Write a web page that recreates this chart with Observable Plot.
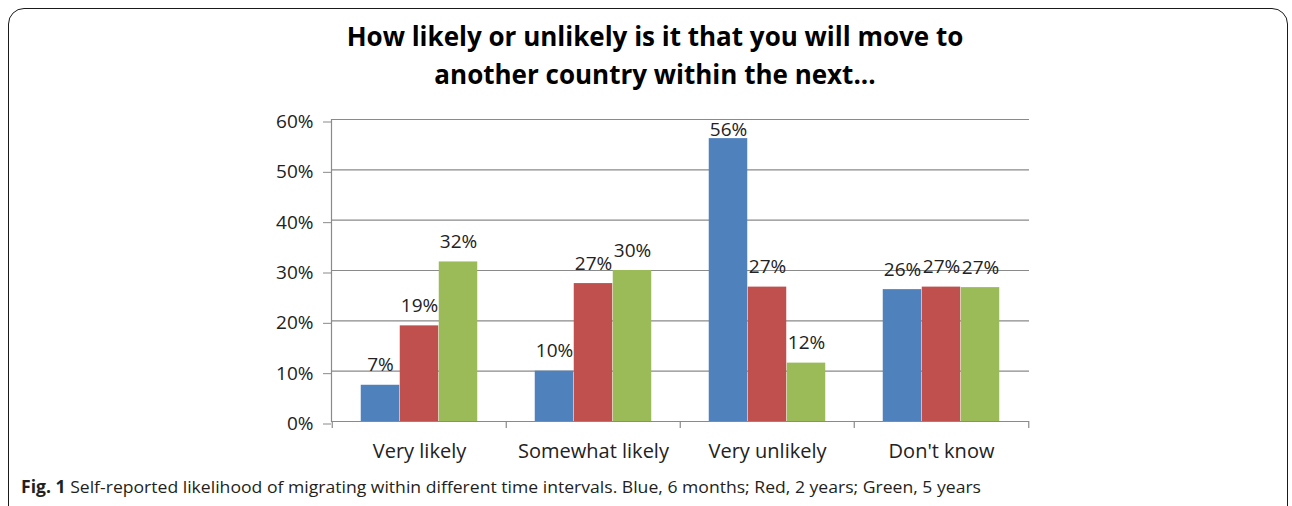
<!DOCTYPE html>
<html><head><meta charset="utf-8">
<script src="https://cdn.jsdelivr.net/npm/d3@7"></script>
<script src="https://cdn.jsdelivr.net/npm/@observablehq/plot@0.6"></script>
<style>
html,body{margin:0;padding:0;background:#fff;width:1292px;height:506px;overflow:hidden;font-family:"Open Sans",sans-serif;}
#frame{position:absolute;left:8px;top:8px;width:1280px;height:540px;border:1.6px solid #1a1a1a;border-radius:16px;box-sizing:border-box;}
#title{position:absolute;left:0;width:1310px;top:17px;text-align:center;font-weight:bold;font-size:26px;line-height:38px;color:#000;}
#chart{position:absolute;left:0;top:100px;}
#caption{position:absolute;left:21px;top:476px;font-size:17px;line-height:22px;white-space:nowrap;color:#231f20;transform-origin:left center;}
</style>
</head><body>
<div id="frame"></div>
<div id="title">How likely or unlikely is it that you will move to<br>another country within the next...</div>
<div id="chart"></div>
<div id="caption"><b>Fig. 1</b> Self-reported likelihood of migrating within different time intervals. Blue, 6 months; Red, 2 years; Green, 5 years</div>
<script>
const categories = ["Very likely", "Somewhat likely", "Very unlikely", "Don't know"];
const series = ["6 months", "2 years", "5 years"];
const sixMonths = [0.072, 0.100, 0.562, 0.262];
const twoYears  = [0.190, 0.274, 0.267, 0.267];
const fiveYears = [0.317, 0.300, 0.116, 0.266];
const yTicks = [0, 0.1, 0.2, 0.3, 0.4, 0.5, 0.6];
const yTickLabels = ["0%", "10%", "20%", "30%", "40%", "50%", "60%"];
const seriesColors = ["#4F81BD", "#C0504D", "#9BBB59"];

const seriesValues = [sixMonths, twoYears, fiveYears];
const rows = categories.flatMap((c, i) => series.map((s, j) => ({category: c, series: s, j, value: seriesValues[j][i]})));

const W = 1292, H = 372, ML = 331, MR = 263, MT = 19, MB = 51;
const plotH = H - MT - MB;
const step = (W - ML - MR) / categories.length;
const barW = 39;
const inset = (step - barW) / 2;
const grey = "#8a8a8a";
const ink = "#222";

const marks = [
  Plot.ruleY(yTicks, {stroke: grey, strokeWidth: 1.2}),
  Plot.axisY({ticks: yTicks, label: null, tickFormat: d => yTickLabels[yTicks.indexOf(d)], tickSize: 8, tickPadding: 10, stroke: grey, fill: ink, fontSize: 19, dy: 2.5}),
  Plot.axisX({label: null, tickSize: 0, tickPadding: 22, fill: ink, fontSize: 20}),
  Plot.frame({anchor: "left", stroke: grey, strokeWidth: 1.2}),
  Plot.ruleX(categories, {x: d => d, dx: -step / 2, insetTop: plotH, insetBottom: -7, stroke: grey, strokeWidth: 1.2}),
  Plot.ruleX([categories[categories.length - 1]], {x: d => d, dx: step / 2, insetTop: plotH, insetBottom: -7, stroke: grey, strokeWidth: 1.2})
];
series.forEach((s, j) => {
  const sub = rows.filter(d => d.j === j);
  const off = (j - 1) * barW;
  marks.push(Plot.barY(sub, {x: "category", y: "value", fill: seriesColors[j], insetLeft: inset, insetRight: inset, dx: off}));
  marks.push(Plot.text(sub.filter(d => d.value < 0.55), {x: "category", y: "value", text: d => Math.round(d.value * 100) + "%", dx: off, dy: -20, fontSize: 19, fill: ink}));
  marks.push(Plot.text(sub.filter(d => d.value >= 0.55), {x: "category", frameAnchor: "top", lineAnchor: "middle", text: d => Math.round(d.value * 100) + "%", dx: off, dy: 10, fontSize: 19, fill: ink}));
});

const chart = Plot.plot({
  width: W, height: H,
  marginLeft: ML, marginRight: MR, marginTop: MT, marginBottom: MB,
  style: {fontFamily: "Open Sans", fontSize: "20px", color: ink, background: "transparent"},
  x: {domain: categories, padding: 0, axis: null},
  y: {domain: [0, 0.6], axis: null},
  marks
});
document.getElementById("chart").appendChild(chart);

const cap = document.getElementById("caption");
const cw = cap.getBoundingClientRect().width;
cap.style.transform = `scaleX(${960 / cw})`;
</script>
</body></html>
